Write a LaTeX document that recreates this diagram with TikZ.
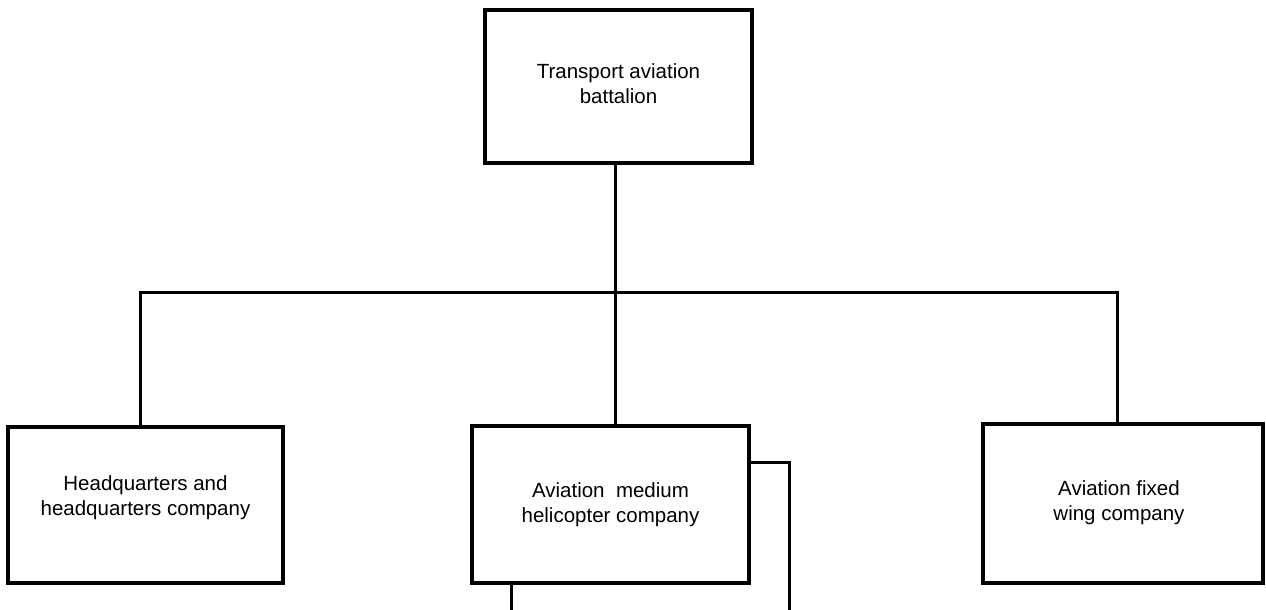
\documentclass[tikz,border=0pt]{standalone}
\usepackage{fontspec}
\setmainfont{Liberation Sans}
\begin{document}
\begin{tikzpicture}[x=1pt,y=1pt,
  box/.style={draw,line width=3.2pt,rectangle,inner sep=0pt},
  lbl/.style={align=center,font=\fontsize{20.5}{25}\selectfont},
  conn/.style={line width=3pt}]
\useasboundingbox (0,0) rectangle (1266,610);
\node[box,minimum width=267pt,minimum height=153pt] (top) at (618.5,523.5) {};
\node[box,minimum width=275pt,minimum height=156pt] (hq) at (145.5,105) {};
\node[box,minimum width=277pt,minimum height=157pt] (mid) at (610.5,105.5) {};
\node[box,minimum width=280pt,minimum height=159pt] (fw) at (1123,106.5) {};
\node[lbl] (ttop) at ([yshift=3pt]top.center) {Transport aviation\\battalion};
\node[lbl] (thq) at ([yshift=7pt]hq.center) {Headquarters and\\headquarters company};
\node[lbl] (tmid) at ([yshift=0pt]mid.center) {Aviation~~medium\\helicopter company};
\node[lbl] (tfw) at ([yshift=1pt,xshift=-4pt]fw.center) {Aviation fixed\\wing company};
\coordinate (busL) at (140,317);
\coordinate (busR) at (1117,317);
\coordinate (busM) at (615,317);
\draw[conn] (top.south -| busM) -- (busM);
\draw[conn] (hq.north -| busL) -- (busL) -- (busR) -- (fw.north -| busR);
\draw[conn] (busM) -- (mid.north -| busM);
\coordinate (sideA) at (789,147);
\coordinate (sideB) at (789,0);
\coordinate (botB) at (511,0);
\draw[conn] (mid.east |- sideA) -- (sideA) -- (sideB);
\draw[conn] (mid.south -| botB) -- (botB);
\end{tikzpicture}
\end{document}
